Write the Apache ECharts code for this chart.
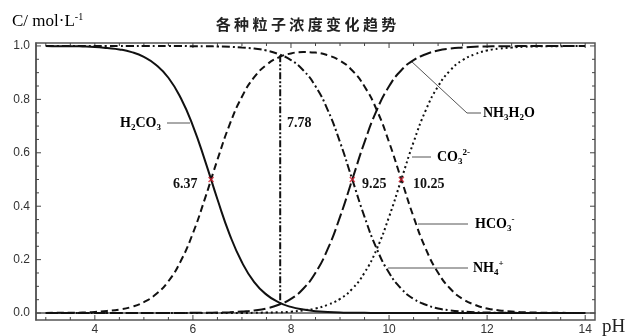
<!DOCTYPE html>
<html>
<head>
<meta charset="utf-8">
<script src="https://cdn.jsdelivr.net/npm/echarts@6/dist/echarts.min.js"></script>
<style>
  html, body { margin: 0; padding: 0; background: #fff; }
  #main { width: 628px; height: 336px; }
</style>
</head>
<body>
<div id="main"></div>
<script>
// pH 取值点
var pH = [3, 3.25, 3.5, 3.75, 4, 4.25, 4.5, 4.75, 5, 5.25, 5.5, 5.75, 6, 6.25, 6.5, 6.75,
  7, 7.25, 7.5, 7.75, 8, 8.25, 8.5, 8.75, 9, 9.25, 9.5, 9.75, 10, 10.25, 10.5, 10.75,
  11, 11.25, 11.5, 11.75, 12, 12.25, 12.5, 12.75, 13, 13.25, 13.5, 13.75, 14];

// 各粒子分布分数
var h2co3 = [1.000, 0.999, 0.999, 0.998, 0.996, 0.992, 0.987, 0.977, 0.959, 0.929, 0.881, 0.806, 0.701, 0.569, 0.426, 0.294,
  0.190, 0.116, 0.069, 0.040, 0.023, 0.013, 0.007, 0.004, 0.002, 0.001, 0.001, 0, 0, 0, 0, 0,
  0, 0, 0, 0, 0, 0, 0, 0, 0, 0, 0, 0, 0];
var hco3 = [0.000, 0.001, 0.001, 0.002, 0.004, 0.008, 0.013, 0.023, 0.041, 0.071, 0.119, 0.194, 0.299, 0.431, 0.574, 0.706,
  0.810, 0.883, 0.929, 0.957, 0.972, 0.977, 0.975, 0.965, 0.945, 0.908, 0.848, 0.760, 0.640, 0.500, 0.360, 0.240,
  0.151, 0.091, 0.053, 0.031, 0.017, 0.010, 0.006, 0.003, 0.002, 0.001, 0.001, 0, 0];
var co3 = [0, 0, 0, 0, 0, 0, 0, 0, 0, 0, 0, 0, 0, 0, 0, 0,
  0, 0.001, 0.002, 0.003, 0.005, 0.010, 0.017, 0.031, 0.053, 0.091, 0.151, 0.240, 0.360, 0.500, 0.640, 0.760,
  0.849, 0.909, 0.947, 0.969, 0.983, 0.990, 0.994, 0.997, 0.998, 0.999, 0.999, 1.000, 1.000];
var nh4 = [1, 1, 1, 1, 1, 1, 1, 1, 1, 1, 1, 1, 0.999, 0.999, 0.998, 0.997,
  0.994, 0.990, 0.983, 0.969, 0.947, 0.909, 0.849, 0.760, 0.640, 0.500, 0.360, 0.240, 0.151, 0.091, 0.053, 0.031,
  0.017, 0.010, 0.006, 0.003, 0.002, 0.001, 0.001, 0, 0, 0, 0, 0, 0];
var nh3 = [0, 0, 0, 0, 0, 0, 0, 0, 0, 0, 0, 0, 0.001, 0.001, 0.002, 0.003,
  0.006, 0.010, 0.017, 0.031, 0.053, 0.091, 0.151, 0.240, 0.360, 0.500, 0.640, 0.760, 0.849, 0.909, 0.947, 0.969,
  0.983, 0.990, 0.994, 0.997, 0.998, 0.999, 0.999, 1, 1, 1, 1, 1, 1];

// 交点和7.78竖线
var crossX = [6.37, 9.25, 10.25];
var crossY = [0.5, 0.5, 0.5];
var vLineX = [7.78, 7.78];
var vLineY = [0.965, 0.035];

// 刻度
var xMajor = [4, 6, 8, 10, 12, 14];
var xMinor = [3, 3.5, 4.5, 5, 5.5, 6.5, 7, 7.5, 8.5, 9, 9.5, 10.5, 11, 11.5, 12.5, 13, 13.5];
var yMajor = [0, 0.2, 0.4, 0.6, 0.8, 1.0];
var yMinor = [0.05, 0.1, 0.15, 0.25, 0.3, 0.35, 0.45, 0.5, 0.55, 0.65, 0.7, 0.75, 0.85, 0.9, 0.95];

function zip(xs, ys) {
  var out = [];
  for (var i = 0; i < xs.length; i++) out.push([xs[i], ys[i]]);
  return out;
}

var axisColor = '#555';
var XMIN = 2.8, XMAX = 14.2, YMIN = -0.026, YMAX = 1.011;

// 边框刻度用 custom 系列画，刻度值来自上面的数组
function tickSeries(vals, dir, len) {
  return {
    type: 'custom', silent: true, clip: false, z: 3,
    data: vals.map(function (v) { return [v]; }),
    renderItem: function (params, api) {
      var v = api.value(0);
      var lines = [];
      if (dir === 'x') {
        var b = api.coord([v, YMIN]), t = api.coord([v, YMAX]);
        lines.push({ type: 'line', shape: { x1: b[0], y1: b[1], x2: b[0], y2: b[1] - len } });
        lines.push({ type: 'line', shape: { x1: t[0], y1: t[1], x2: t[0], y2: t[1] + len } });
      } else {
        var l = api.coord([XMIN, v]), r = api.coord([XMAX, v]);
        lines.push({ type: 'line', shape: { x1: l[0], y1: l[1], x2: l[0] + len, y2: l[1] } });
        lines.push({ type: 'line', shape: { x1: r[0], y1: r[1], x2: r[0] - len, y2: r[1] } });
      }
      return { type: 'group', children: lines.map(function (c) {
        c.style = { stroke: '#444', lineWidth: 1 }; return c; }) };
    }
  };
}

function curve(name, data, dash) {
  return {
    name: name, type: 'line', data: zip(pH, data),
    smooth: 0.5, symbol: 'none', silent: true,
    lineStyle: { color: '#111', width: 2, type: dash }
  };
}

var serif = 'Liberation Serif';
var richChem = {
  b: { fontFamily: serif, fontWeight: 'bold', fontSize: 14, lineHeight: 18, color: '#111', verticalAlign: 'middle' },
  s: { fontFamily: serif, fontWeight: 'bold', fontSize: 9, lineHeight: 18, color: '#111', verticalAlign: 'bottom' },
  p: { fontFamily: serif, fontWeight: 'bold', fontSize: 9, lineHeight: 18, color: '#111', verticalAlign: 'top' }
};
function chem(x, y, txt) {
  return { type: 'text', x: x, y: y, style: { text: txt, rich: richChem, verticalAlign: 'middle', textAlign: 'left' } };
}
function num(x, y, txt) {
  return { type: 'text', x: x, y: y, style: { text: txt, fontFamily: serif, fontWeight: 'bold', fontSize: 14, fill: '#111', verticalAlign: 'middle' } };
}
function leader(pts) {
  return { type: 'polyline', shape: { points: pts }, style: { stroke: '#555', lineWidth: 1, fill: null } };
}

var myChart = echarts.init(document.getElementById('main'));
var option = {
  animation: false,
  backgroundColor: '#fff',
  grid: { left: 36, right: 33, top: 43, bottom: 14, show: true, borderColor: axisColor, borderWidth: 1.5 },
  xAxis: {
    type: 'value', min: XMIN, max: XMAX,
    axisLine: { show: true, lineStyle: { color: axisColor, width: 1.5 } },
    axisTick: { show: false },
    axisLabel: { customValues: xMajor, margin: 4, color: '#333', fontSize: 12, fontFamily: 'Liberation Sans' },
    splitLine: { show: false }
  },
  yAxis: {
    type: 'value', min: YMIN, max: YMAX,
    axisLine: { show: true, lineStyle: { color: axisColor, width: 1.5 } },
    axisTick: { show: false },
    axisLabel: { customValues: yMajor, margin: 6, color: '#333', fontSize: 12, fontFamily: 'Liberation Sans',
      formatter: function (v) { return v.toFixed(1); } },
    splitLine: { show: false }
  },
  series: [
    tickSeries(xMajor, 'x', 5),
    tickSeries(xMinor, 'x', 3),
    tickSeries(yMajor, 'y', 5),
    tickSeries(yMinor, 'y', 3),
    curve('H2CO3', h2co3, 'solid'),
    curve('HCO3-', hco3, [7, 4]),
    curve('CO32-', co3, [2, 3]),
    curve('NH4+', nh4, [8, 3, 2, 3]),
    curve('NH3H2O', nh3, [12, 4]),
    {
      type: 'line', data: zip(vLineX, vLineY), symbol: 'none', silent: true,
      lineStyle: { color: '#111', width: 2, type: [7, 2, 2, 2, 2, 2] }
    },
    {
      type: 'scatter', data: zip(crossX, crossY), silent: true, z: 5,
      symbol: 'path://M0 0L10 10M10 0L0 10', symbolSize: 5,
      itemStyle: { color: 'rgba(0,0,0,0)', borderColor: '#d02030', borderWidth: 1.5 }
    }
  ],
  graphic: [
    { type: 'text', x: 306, y: 24, style: { text: '各 种 粒 子 浓 度 变 化 趋 势', fontFamily: 'Noto Sans CJK SC', fontWeight: 'bold',
      fontSize: 15, fill: '#222', textAlign: 'center', verticalAlign: 'middle' } },
    { type: 'text', x: 12, y: 22, style: { text: '{a|C/ mol·L}{s|-1}', verticalAlign: 'middle',
      rich: { a: { fontFamily: serif, fontSize: 17, lineHeight: 20, color: '#222', verticalAlign: 'middle' },
              s: { fontFamily: serif, fontSize: 10, lineHeight: 20, color: '#222', verticalAlign: 'top' } } } },
    { type: 'text', x: 602, y: 327, style: { text: 'pH', fontFamily: serif, fontSize: 19, fill: '#222', verticalAlign: 'middle' } },

    chem(120, 123, '{b|H}{s|2}{b|CO}{s|3}'),
    leader([[167, 123], [190, 123]]),
    num(287, 123, '7.78'),
    num(173, 184, '6.37'),
    num(362, 184, '9.25'),
    num(413, 184, '10.25'),
    leader([[411, 61], [467, 113], [481, 113]]),
    chem(483, 113, '{b|NH}{s|3}{b|H}{s|2}{b|O}'),
    leader([[412, 157], [431, 157]]),
    chem(437, 157, '{b|CO}{s|3}{p|2-}'),
    leader([[418, 224], [468, 224]]),
    chem(475, 224, '{b|HCO}{s|3}{p|-}'),
    leader([[388, 268], [468, 268]]),
    chem(473, 268, '{b|NH}{s|4}{p|+}')
  ]
};
myChart.setOption(option);
</script>
</body>
</html>
